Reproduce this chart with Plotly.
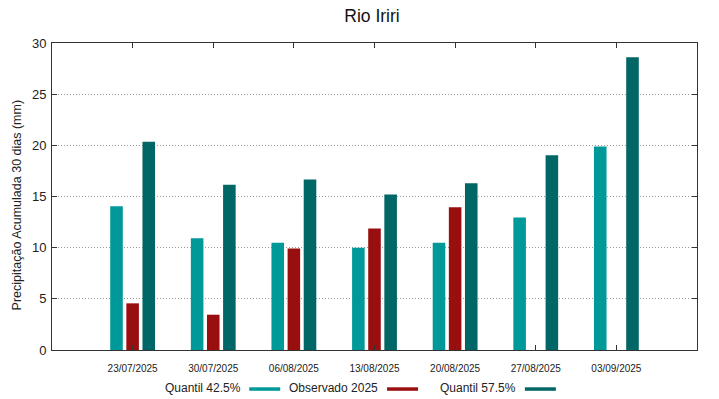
import plotly.graph_objects as go

dates = ["23/07/2025", "30/07/2025", "06/08/2025", "13/08/2025",
         "20/08/2025", "27/08/2025", "03/09/2025"]
q425 = [14.05, 10.93, 10.48, 9.99, 10.48, 12.95, 19.88]
obs2025 = [4.56, 3.45, 9.93, 11.88, 13.96, None, None]
q575 = [20.34, 16.14, 16.66, 15.2, 16.3, 19.04, 28.6]

series_names = ["Quantil 42.5%", "Observado 2025", "Quantil 57.5%"]
series_colors = ["#009999", "#990f0f", "#006666"]
yticks = [0, 5, 10, 15, 20, 25, 30]

xpos = list(range(1, len(dates) + 1))
FONT = "Liberation Sans, Arial, sans-serif"

# page body has an 8px margin: work in window pixels, shift by OFF
OFF = 8
L, R, T, B = 51.5, 697.3, 43.3, 350.0
W, H = 719 - OFF, 399 - OFF


def px(x):
    return (x - L) / (R - L)


def py(y):
    return (B - y) / (B - T)


fig = go.Figure()
for name, vals, col in zip(series_names, [q425, obs2025, q575], series_colors):
    fig.add_trace(go.Bar(x=xpos, y=vals, name=name, marker_color=col,
                         marker_line_width=0, showlegend=False))

# manual legend: text followed by a line sample (gnuplot style)
leg_text_x = [243, 380, 518]
leg_line_x = [(249, 280), (387, 418), (525, 556)]
for name, col, tx, (l0, l1) in zip(series_names, series_colors, leg_text_x, leg_line_x):
    fig.add_annotation(text=name, xref="paper", yref="paper",
                       x=px(tx), y=py(388), xanchor="right", yanchor="middle",
                       showarrow=False, font=dict(size=12, color="#222", family=FONT))
    fig.add_shape(type="line", xref="paper", yref="paper",
                  x0=px(l0), x1=px(l1), y0=py(389), y1=py(389),
                  line=dict(color=col, width=3.5))

# y-axis title
fig.add_annotation(text="Precipitação Acumulada 30 dias (mm)", xref="paper", yref="paper",
                   x=px(16), y=py(205), xanchor="center", yanchor="middle",
                   textangle=-90, showarrow=False,
                   font=dict(size=12.5, color="#222", family=FONT))

fig.update_layout(
    width=W, height=H,
    margin=dict(l=L - OFF, r=719 - R, t=T - OFF, b=399 - B, autoexpand=False),
    paper_bgcolor="white", plot_bgcolor="white",
    barmode="group", bargap=0.4, bargroupgap=0.22,
    font=dict(family=FONT, color="#222"),
    title=dict(text="Rio Iriri", x=(372 - OFF) / W, xanchor="center",
               y=1 - (16 - OFF) / H, yanchor="middle",
               font=dict(size=17.5, family=FONT, color="#111")),
    xaxis=dict(range=[0, 8], tickvals=xpos, ticktext=dates, automargin=False,
               tickfont=dict(size=10, family=FONT), ticks="inside", ticklen=5,
               ticklabelstandoff=9,
               tickcolor="#333", showline=True, linecolor="#333", linewidth=1,
               mirror="allticks", showgrid=False, zeroline=False),
    yaxis=dict(range=[0, 30], tickvals=yticks, tickfont=dict(size=13, family=FONT),
               automargin=False, ticks="inside", ticklen=5, tickcolor="#333",
               ticklabelstandoff=2,
               showline=True, linecolor="#333", linewidth=1, mirror="allticks",
               showgrid=True, gridcolor="#999999", griddash="1px,2px", gridwidth=1,
               zeroline=False),
)

fig.write_html("out.html")
